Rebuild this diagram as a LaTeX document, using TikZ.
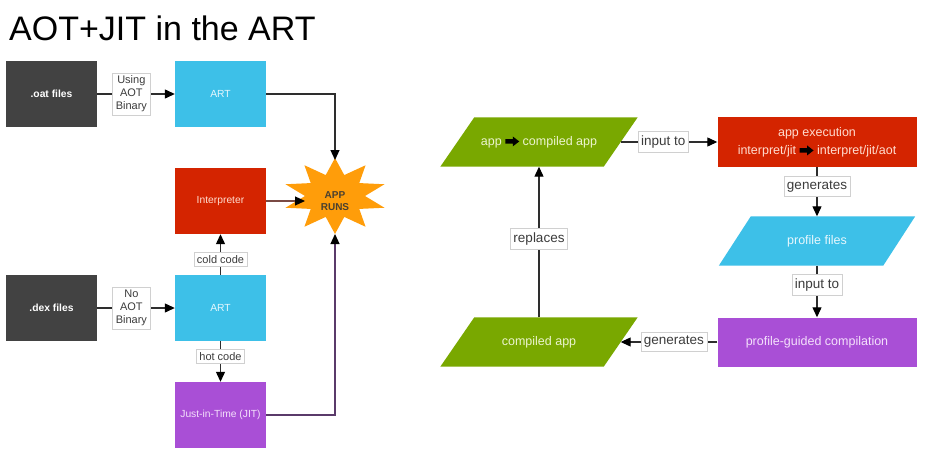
\documentclass[tikz,border=0pt]{standalone}
\usepackage{fontspec}
\setmainfont{Liberation Sans}
\usetikzlibrary{arrows.meta,backgrounds}
\definecolor{darkbox}{HTML}{424242}
\definecolor{artblue}{HTML}{3DC0E8}
\definecolor{redbox}{HTML}{D42400}
\definecolor{purplebox}{HTML}{A94FD6}
\definecolor{greenbox}{HTML}{79A800}
\definecolor{starorange}{HTML}{FF9D0A}
\definecolor{startext}{HTML}{4A4030}
\definecolor{lbltext}{HTML}{3C3C3C}
\definecolor{lblborder}{HTML}{D0D0D0}
\definecolor{linecol}{HTML}{2E2E2E}
\definecolor{interpline}{HTML}{7A4A44}
\definecolor{jitline}{HTML}{5A3A6A}
\definecolor{onblue}{HTML}{E6F7FD}
\definecolor{onred}{HTML}{FFDCCF}
\definecolor{onpurple}{HTML}{F4E0FB}
\definecolor{ongreen}{HTML}{ECF4CF}
\newcommand\blkarr{\tikz[x=1pt,y=1pt,baseline=-3.8pt]\fill[black] (0,-2.3) -- (7.5,-2.3) -- (7.5,-5) -- (14,0) -- (7.5,5) -- (7.5,2.3) -- (0,2.3) -- cycle;}
\begin{document}
\begin{tikzpicture}[x=1pt,y=-1pt,
  every node/.style={inner sep=0pt},
  lbox/.style={rectangle, minimum width=91pt, minimum height=66pt, font=\fontsize{10.3}{12}\selectfont, text=white},
  rbox/.style={rectangle, minimum width=199pt, minimum height=49pt, font=\fontsize{12.5}{18}\selectfont, align=center},
  pbox/.style={rectangle, minimum width=163pt, minimum height=49pt, font=\fontsize{12.5}{15}\selectfont},
  lbl/.style={fill=white, draw=lblborder, line width=0.6pt, text=lbltext, inner xsep=3pt, inner ysep=3pt, align=center},
  lblL/.style={lbl, font=\fontsize{11}{13}\selectfont},
  lblR/.style={lbl, font=\fontsize{13.5}{16}\selectfont, inner ysep=4pt},
  arr/.style={draw=linecol, line width=1.2pt, -{Triangle[length=10pt,width=9pt,color=black]}},
]
\begin{pgfonlayer}{background}
  \fill[white] (0,0) rectangle (928,468);
\end{pgfonlayer}
\useasboundingbox (0,0) rectangle (928,468);

% title
\node[anchor=base west, font=\fontsize{34}{40}\selectfont] (title) at (9,41) {AOT+JIT in the ART};

% left side boxes
\node[lbox, fill=darkbox, font=\bfseries\fontsize{10.3}{12}\selectfont] (oat) at (51.5,94) {.oat files};
\node[lbox, fill=artblue, text=onblue] (art1) at (220.5,94) {ART};
\node[lbox, fill=redbox, text=onred] (interp) at (220.5,201) {Interpreter};
\node[lbox, fill=darkbox, font=\bfseries\fontsize{10.3}{12}\selectfont] (dex) at (51.5,308) {.dex files};
\node[lbox, fill=artblue, text=onblue] (art2) at (220.5,308) {ART};
\node[lbox, fill=purplebox, text=onpurple] (jit) at (220.5,415) {Just-in-Time (JIT)};

% star
\begin{scope}[shift={(335,196)}]
  \fill[starorange] (90:52pt and 38pt)
    \foreach \k [evaluate=\k as \rx using {mod(\k,2)==0 ? 52 : 30},
                 evaluate=\k as \ry using {mod(\k,2)==0 ? 38 : 22}] in {1,...,19}
      { -- ({90+18*\k}:\rx pt and \ry pt) } -- cycle;
\end{scope}
\node[font=\bfseries\fontsize{10}{11.5}\selectfont, text=startext, align=center] (star) at (335,201) {APP\\RUNS};
\coordinate (startop) at (335,160);
\coordinate (starleft) at (305,201);
\coordinate (starbot) at (335,234);

% left connectors
\draw[arr] (oat.east) -- node[lblL, pos=0.44] {Using\\AOT\\Binary} (art1.west);
\draw[arr] (dex.east) -- node[lblL, pos=0.44] {No\\AOT\\Binary} (art2.west);
\draw[arr] (art2.north) -- node[lblL, pos=0.38] {cold code} (interp.south);
\draw[arr] (art2.south) -- node[lblL, pos=0.37] {hot code} (jit.north);
\draw[arr] (art1.east) -| (startop);
\draw[arr, draw=interpline] (interp.east) -- (starleft);
\draw[arr, draw=jitline] (jit.east) -| (starbot);

% right side
\node[pbox, text=ongreen] (app) at (539,142) {app \blkarr{} compiled app};
\node[rbox, fill=redbox, text=onred] (exec) at (817,142) {app execution\\interpret/jit \blkarr{} interpret/jit/aot};
\node[pbox, text=onblue, minimum width=164pt] (prof) at (817,241) {profile files};
\node[rbox, fill=purplebox, text=onpurple] (pgc) at (817,342) {profile-guided compilation};
\node[pbox, text=ongreen] (comp) at (539,342) {compiled app};

\begin{pgfonlayer}{background}
  \fill[greenbox] ([xshift=-17pt]app.south west) -- ([xshift=-17pt]app.south east)
     -- ([xshift=17pt]app.north east) -- ([xshift=17pt]app.north west) -- cycle;
  \fill[greenbox] ([xshift=-17pt]comp.south west) -- ([xshift=-17pt]comp.south east)
     -- ([xshift=17pt]comp.north east) -- ([xshift=17pt]comp.north west) -- cycle;
  \fill[artblue] ([xshift=-16pt]prof.south west) -- ([xshift=-16pt]prof.south east)
     -- ([xshift=16pt]prof.north east) -- ([xshift=16pt]prof.north west) -- cycle;
\end{pgfonlayer}

\draw[arr] (app.east) -- node[lblR, pos=0.44] {input to} (exec.west);
\draw[arr] (exec.south) -- node[lblR, pos=0.39] {generates} (prof.north);
\draw[arr] (prof.south) -- node[lblR, pos=0.37] {input to} (pgc.north);
\draw[arr] (pgc.west) -- node[lblR, pos=0.45] {generates} (comp.east);
\draw[arr] (comp.north) -- node[lblR, pos=0.52] {replaces} (app.south);
\end{tikzpicture}
\end{document}
